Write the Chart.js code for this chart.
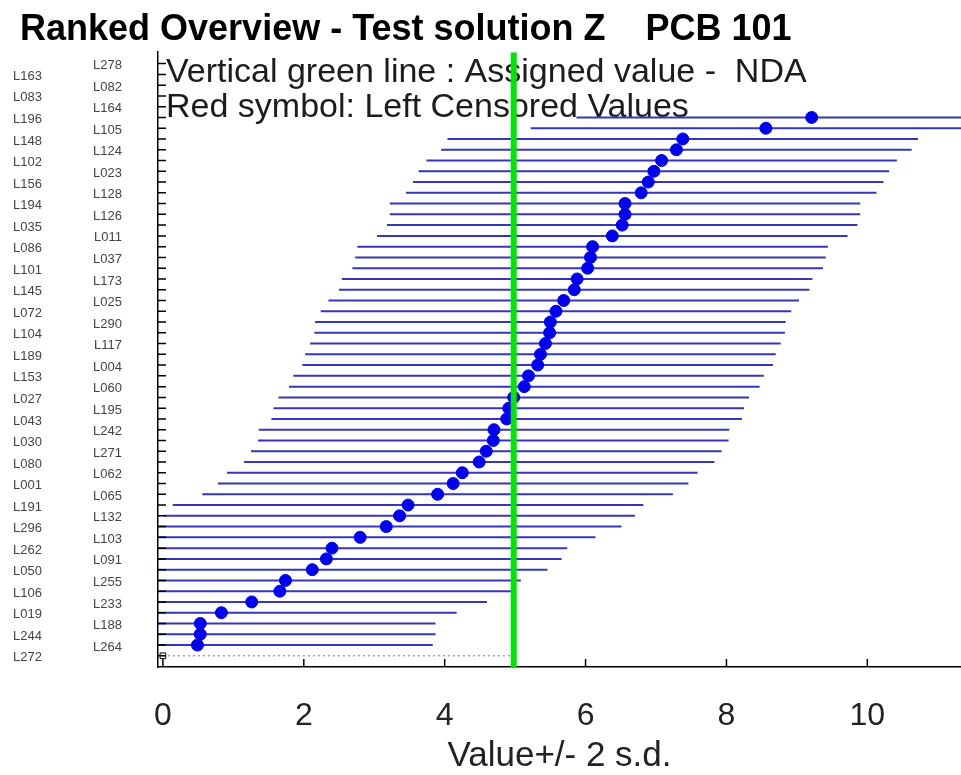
<!DOCTYPE html>
<html>
<head>
<meta charset="utf-8">
<script src="https://cdn.jsdelivr.net/npm/chart.js@4.4.1/dist/chart.umd.min.js"></script>
<style>
  body { margin: 0; background: #fff; overflow: hidden; }
  #wrap { width: 961px; height: 775px; }
</style>
</head>
<body>
<div id="wrap"><canvas id="rankChart"></canvas></div>
<script>
'use strict';

//lab codes in ranked order, top to bottom
var labCodes = ['L278', 'L163', 'L082', 'L083', 'L164', 'L196', 'L105', 'L148', 'L124', 'L102',
  'L023', 'L156', 'L128', 'L194', 'L126', 'L035', 'L011', 'L086', 'L037', 'L101',
  'L173', 'L145', 'L025', 'L072', 'L290', 'L104', 'L117', 'L189', 'L004', 'L153',
  'L060', 'L027', 'L195', 'L043', 'L242', 'L030', 'L271', 'L080', 'L062', 'L001',
  'L065', 'L191', 'L132', 'L296', 'L103', 'L262', 'L091', 'L050', 'L255', 'L106',
  'L233', 'L019', 'L188', 'L244', 'L264', 'L272'];

//reported values (null = nothing plotted for that lab)
var labValues = [null, null, null, null, null, 9.21, 8.56, 7.38, 7.29, 7.08,
  6.97, 6.89, 6.79, 6.56, 6.56, 6.52, 6.38, 6.10, 6.07, 6.03,
  5.88, 5.84, 5.69, 5.58, 5.50, 5.49, 5.43, 5.36, 5.32, 5.19,
  5.13, 4.98, 4.91, 4.88, 4.70, 4.69, 4.59, 4.49, 4.25, 4.12,
  3.90, 3.48, 3.36, 3.17, 2.80, 2.40, 2.32, 2.12, 1.74, 1.66,
  1.26, 0.83, 0.53, 0.53, 0.49, null];

var twoSd = 3.34;
var assignedValue = 4.98;
var censoredLab = 'L272';
var xTicks = [0, 2, 4, 6, 8, 10];
var xMin = -0.07;
var xMax = 11.33;
var yMin = -1.06;
var yMax = 56.04;

var chartTitle = '  Ranked Overview - Test solution Z    PCB 101';
var noteLines = ['Vertical green line : Assigned value -  NDA', 'Red symbol: Left Censored Values'];
var xTitle = 'Value+/- 2 s.d.';

var fontFamily = '"Liberation Sans", Arial, Helvetica, sans-serif';

//build the point and error bar data from the arrays above
var pointData = [];
var barData = [];
for (var i = 0; i < labCodes.length; i++) {
  if (labValues[i] === null) continue;
  pointData.push({x: labValues[i], y: i});
  barData.push({x: labValues[i] - twoSd, y: i});
  barData.push({x: labValues[i] + twoSd, y: i});
  barData.push({x: null, y: null});
}
var censoredRow = labCodes.indexOf(censoredLab);

//note text under the datasets, small tick marks on the inside of the axes
var overlayPlugin = {
  id: 'overlay',
  beforeDatasetsDraw: function(chart) {
    var ctx = chart.ctx;
    var area = chart.chartArea;
    ctx.save();
    ctx.font = '34px ' + fontFamily;
    ctx.fillStyle = '#1c1c1c';
    ctx.textBaseline = 'alphabetic';
    for (var n = 0; n < noteLines.length; n++) {
      ctx.fillText(noteLines[n], area.left + 8, area.top + 30 + n * 35);
    }
    ctx.restore();
  },
  afterDraw: function(chart) {
    var ctx = chart.ctx;
    var area = chart.chartArea;
    var ys = chart.scales.y;
    var xs = chart.scales.x;
    ctx.save();
    ctx.strokeStyle = '#000';
    ctx.lineWidth = 1.5;
    ctx.beginPath();
    for (var r = 0; r < labCodes.length; r++) {
      var py = ys.getPixelForValue(r);
      ctx.moveTo(area.left, py);
      ctx.lineTo(area.left + 8, py);
    }
    for (var t = 0; t < xTicks.length; t++) {
      var px = xs.getPixelForValue(xTicks[t]);
      ctx.moveTo(px, area.bottom);
      ctx.lineTo(px, area.bottom - 8);
    }
    ctx.stroke();
    ctx.restore();
  }
};

function rowTicks(parity) {
  return function(scale) {
    scale.ticks = [];
    for (var r = parity; r < labCodes.length; r += 2) {
      scale.ticks.push({value: r});
    }
  };
}

var ctx = document.getElementById('rankChart').getContext('2d');
new Chart(ctx, {
  type: 'scatter',
  data: {
    datasets: [
      {
        label: 'Assigned value',
        data: [{x: assignedValue, y: yMin}, {x: assignedValue, y: yMax}],
        showLine: true,
        borderColor: '#00e600',
        borderWidth: 6,
        pointRadius: 0,
        order: 0
      },
      {
        label: 'Value',
        data: pointData,
        backgroundColor: '#0000f0',
        borderColor: '#0000f0',
        pointRadius: 6,
        order: 1
      },
      {
        label: '+/- 2 s.d.',
        data: barData,
        showLine: true,
        spanGaps: false,
        borderColor: '#3636b8',
        borderWidth: 2,
        pointRadius: 0,
        order: 2
      },
      {
        label: 'Censored',
        data: [{x: 0, y: censoredRow}, {x: assignedValue, y: censoredRow}],
        showLine: true,
        borderColor: '#777',
        borderWidth: 1,
        borderDash: [2, 3],
        pointRadius: [4, 2],
        pointStyle: 'rect',
        pointBackgroundColor: 'rgba(0,0,0,0)',
        pointBorderColor: ['#000', '#999'],
        pointBorderWidth: 1,
        order: 3
      }
    ]
  },
  options: {
    responsive: true,
    maintainAspectRatio: false,
    animation: false,
    devicePixelRatio: 1,
    layout: {padding: 0, autoPadding: false},
    plugins: {
      legend: {display: false},
      tooltip: {enabled: false},
      title: {
        display: true,
        text: chartTitle,
        align: 'start',
        color: '#000',
        font: {family: fontFamily, size: 36, weight: 'bold', lineHeight: 1.2},
        padding: {top: 8, bottom: 1}
      }
    },
    scales: {
      x: {
        type: 'linear',
        min: xMin,
        max: xMax,
        afterBuildTicks: function(scale) {
          scale.ticks = xTicks.map(function(v) { return {value: v}; });
        },
        afterFit: function(scale) {
          scale.height = 108;
          scale.paddingLeft = 0;
          scale.paddingRight = 0;
        },
        grid: {display: false, drawTicks: true, tickLength: 30},
        border: {display: true, color: '#000', width: 1.5},
        ticks: {
          color: '#222',
          padding: 0,
          maxRotation: 0,
          font: {family: fontFamily, size: 32}
        },
        title: {
          display: true,
          text: xTitle,
          color: '#222',
          font: {family: fontFamily, size: 35, lineHeight: 1},
          padding: {top: 0, bottom: 1}
        }
      },
      y: {
        type: 'linear',
        reverse: true,
        min: yMin,
        max: yMax,
        weight: 0,
        afterBuildTicks: rowTicks(0),
        afterFit: function(scale) { scale.width = 66; },
        grid: {display: false, drawTicks: true, tickLength: 36},
        border: {display: true, color: '#000', width: 1.5},
        ticks: {
          color: '#444',
          padding: 0,
          labelOffset: 2,
          autoSkip: false,
          font: {family: fontFamily, size: 13},
          callback: function(value) { return labCodes[value]; }
        }
      },
      yOuter: {
        type: 'linear',
        position: 'left',
        reverse: true,
        min: yMin,
        max: yMax,
        weight: 1,
        afterBuildTicks: rowTicks(1),
        afterFit: function(scale) { scale.width = 92; },
        grid: {display: false, drawTicks: true, tickLength: 50},
        border: {display: false},
        ticks: {
          color: '#444',
          padding: 0,
          labelOffset: 2,
          autoSkip: false,
          font: {family: fontFamily, size: 13},
          callback: function(value) { return labCodes[value]; }
        }
      }
    }
  },
  plugins: [overlayPlugin]
});
</script>
</body>
</html>
